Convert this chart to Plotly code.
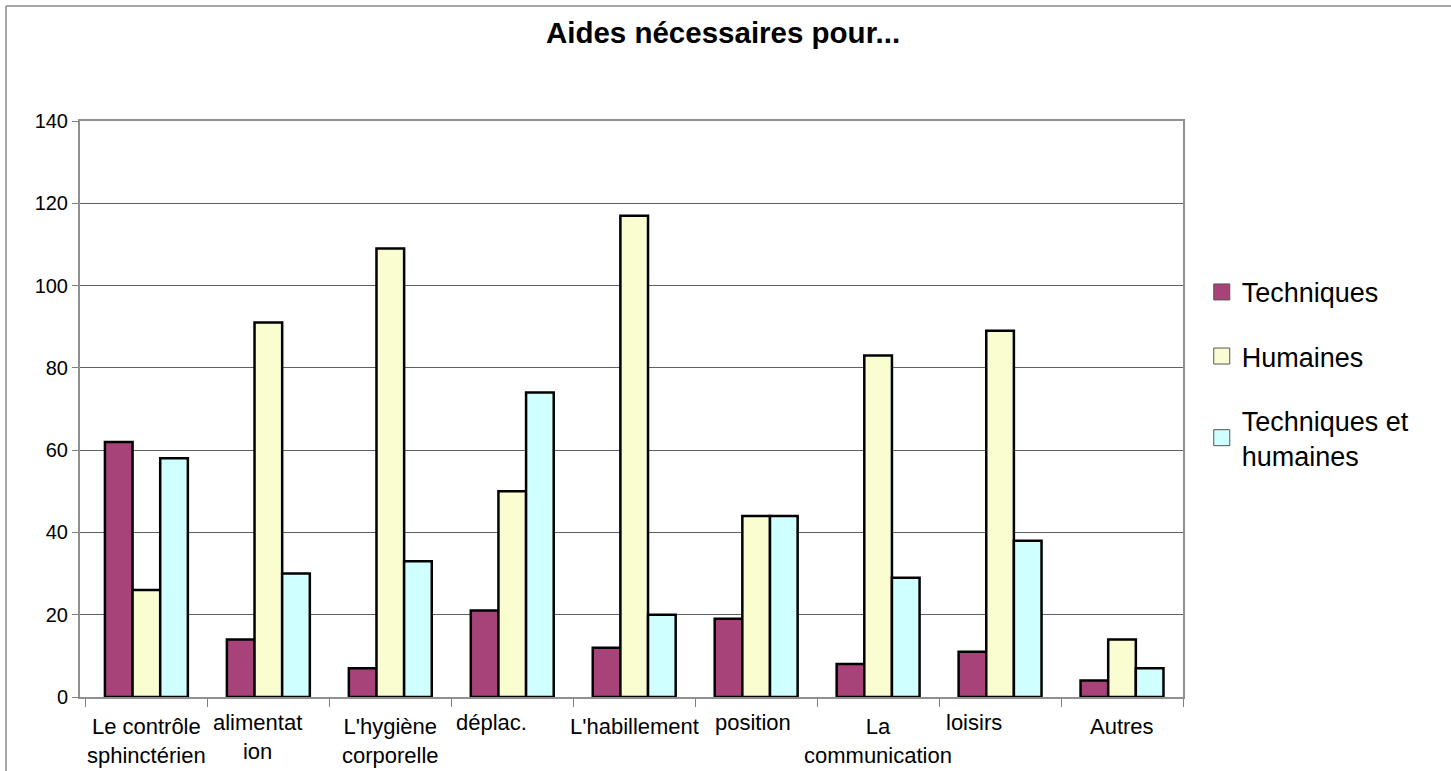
import plotly.graph_objects as go

categories = ["Le contrôle sphinctérien", "alimentation", "L'hygiène corporelle", "déplac.",
              "L'habillement", "position", "La communication", "loisirs", "Autres"]
tick_labels = ["Le contrôle<br>sphinctérien", "alimentat<br>ion", "L'hygiène<br>corporelle", "déplac.",
               "L'habillement", "position", "La<br>communication", "loisirs", "Autres"]
techniques = [62, 14, 7, 21, 12, 19, 8, 11, 4]
humaines = [26, 91, 109, 50, 117, 44, 83, 89, 14]
tech_et_hum = [58, 30, 33, 74, 20, 44, 29, 38, 7]
series_names = ["Techniques", "Humaines", "Techniques et<br>humaines"]
y_ticks = [0, 20, 40, 60, 80, 100, 120, 140]

# label placement (style only)
label_xshift = [0, -11, 0, -21, 0, -3, 0, -26, 0]
label_yshift = [-15, -11, -15, -11, -15, -11, -15, -11, -15]

colors = ["#A8437A", "#FAFDD0", "#D0FFFF"]
FONT = "Liberation Sans, Arial, sans-serif"

fig = go.Figure()
for i, (name, vals) in enumerate(zip(series_names, [techniques, humaines, tech_et_hum])):
    fig.add_trace(go.Bar(
        x=categories, y=vals, name=name, legendgroup=str(i), showlegend=False,
        marker=dict(color=colors[i], line=dict(color="#000000", width=2.5)),
    ))
# legend entries (bigger square swatches)
for i, name in enumerate(series_names):
    fig.add_trace(go.Scatter(
        x=[categories[0]], y=[None], name=name, legendgroup=str(i), mode="markers",
        marker=dict(symbol="square", size=18, color=colors[i], line=dict(color="#555555", width=1)),
        hoverinfo="skip",
    ))

for cat, lab, xs, ys in zip(categories, tick_labels, label_xshift, label_yshift):
    fig.add_annotation(x=cat, xref="x", y=0, yref="paper", text=lab, showarrow=False,
                       xanchor="center", yanchor="top", xshift=xs, yshift=ys,
                       font=dict(family=FONT, size=22, color="#000000"), align="center")

fig.update_layout(
    width=1451, height=771,
    margin=dict(l=80, r=268, t=121, b=74),
    paper_bgcolor="white", plot_bgcolor="white",
    barmode="group", bargap=0.32, bargroupgap=0,
    title=dict(text="<b>Aides nécessaires pour...</b>", x=723/1451, xref="container", xanchor="center",
               y=1 - 33/771, yref="container", yanchor="middle",
               font=dict(family=FONT, size=29.5, color="#000000")),
    font=dict(family=FONT, color="#000000"),
    legend=dict(x=1.017, xanchor="left", y=0.745, yanchor="top", tracegroupgap=26,
                font=dict(family=FONT, size=27, color="#000000"), bgcolor="rgba(0,0,0,0)",
                itemwidth=30, itemsizing="trace"),
    showlegend=True,
)
fig.update_xaxes(showticklabels=False, ticks="outside", tickson="boundaries", ticklen=8,
                 tickcolor="#808080", tickwidth=1, showgrid=False, showline=True,
                 linecolor="#909090", linewidth=2, mirror=True)
fig.update_yaxes(range=[0, 140], tickvals=y_ticks, ticks="outside", ticklen=6, tickcolor="#808080",
                 showgrid=True, gridcolor="#606060", gridwidth=1, showline=True,
                 linecolor="#909090", linewidth=2, mirror=True,
                 tickfont=dict(family=FONT, size=20, color="#000000"), zeroline=False)

# outer frame (top and left edges)
fig.add_shape(type="line", xref="paper", yref="paper", x0=-74/1103, x1=1371/1103,
              y0=691/576, y1=691/576, line=dict(color="#8a8a8a", width=1.5))
fig.add_shape(type="line", xref="paper", yref="paper", x0=-74/1103, x1=-74/1103,
              y0=691/576, y1=-74/576, line=dict(color="#8a8a8a", width=1.5))

fig.write_html("out.html", config={"displayModeBar": False},
               post_script="document.body.style.margin='0';")
